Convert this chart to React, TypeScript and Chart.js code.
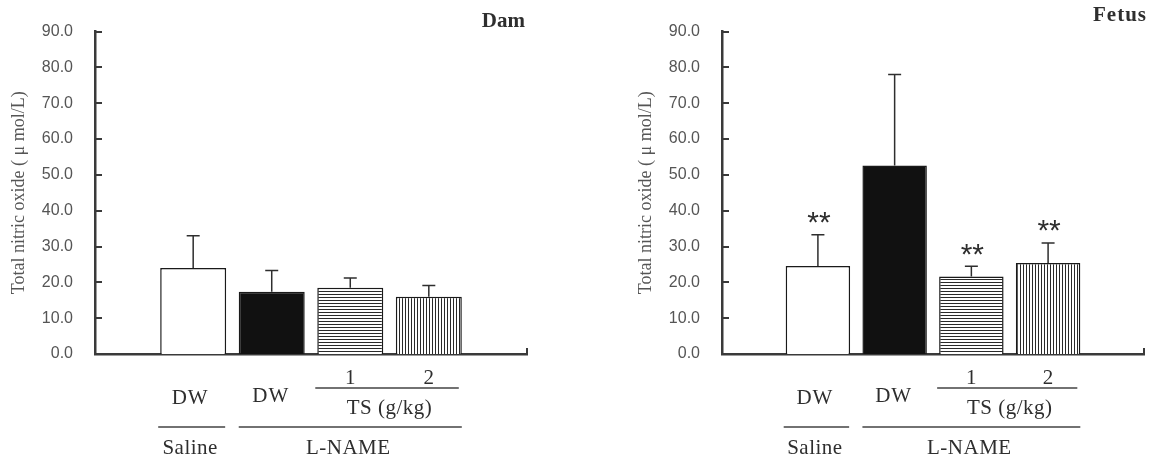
import React, { useEffect, useRef } from 'react';
import { Chart, registerables } from 'chart.js';

Chart.register(...registerables);

// Treatment groups, in bar order
const groups = ['Saline + DW', 'L-NAME + DW', 'L-NAME + TS 1 g/kg', 'L-NAME + TS 2 g/kg'];

// Total nitric oxide (µmol/L), mean and SD
const damMeans = [24.0, 17.4, 18.5, 16.0];
const damSD = [9.0, 5.9, 2.7, 3.1];
const fetusMeans = [24.6, 52.6, 21.6, 25.4];
const fetusSD = [8.7, 25.4, 2.9, 5.6];

// Significance marks vs. L-NAME + DW
const damMarks = ['', '', '', ''];
const fetusMarks = ['**', '', '**', '**'];

// Axis and group labels
const yMax = 90;
const yStep = 10;
const yTitle = 'Total nitric oxide ( \u03bc mol/L)';
const vehicleLabel = 'DW';
const doseLabels = ['1', '2'];
const doseTitle = 'TS (g/kg)';
const groupLabels = ['Saline', 'L-NAME'];

const SERIF = '"Liberation Serif", "Times New Roman", serif';
const SANS = '"Liberation Sans", Arial, sans-serif';
const INK = '#2e2e2e';
const AXIS = '#3a3a3a';

function stripePattern(dir: 'h' | 'v'): CanvasPattern {
  const c = document.createElement('canvas');
  c.width = 3;
  c.height = 3;
  const g = c.getContext('2d')!;
  g.fillStyle = '#ffffff';
  g.fillRect(0, 0, 3, 3);
  g.fillStyle = '#2a2a2a';
  if (dir === 'h') g.fillRect(0, 0, 3, 1);
  else g.fillRect(0, 0, 1, 3);
  return g.createPattern(c, 'repeat')!;
}

type PanelProps = {
  title: string;
  means: number[];
  sds: number[];
  marks: string[];
  left: number;
  width: number;
  padTop: number;
  padRight: number;
  titleDx: number;
  titleY: number;
  titleSpacing: number;
};

function Panel(p: PanelProps) {
  const ref = useRef<HTMLCanvasElement>(null);

  useEffect(() => {
    const fills = ['#ffffff', '#111111', stripePattern('h'), stripePattern('v')];

    const decor = {
      id: 'decor',
      afterDatasetsDraw(chart: any) {
        const ctx = chart.ctx as CanvasRenderingContext2D;
        const y = chart.scales.y;
        const bars = chart.getDatasetMeta(0).data;
        ctx.save();
        ctx.strokeStyle = INK;
        ctx.lineWidth = 1.5;
        bars.forEach((bar: any, i: number) => {
          const base = y.getPixelForValue(p.means[i]);
          const top = y.getPixelForValue(p.means[i] + p.sds[i]);
          ctx.beginPath();
          ctx.moveTo(bar.x, base);
          ctx.lineTo(bar.x, top);
          ctx.moveTo(bar.x - 6.5, top);
          ctx.lineTo(bar.x + 6.5, top);
          ctx.stroke();
          if (p.marks[i]) {
            ctx.font = `30px ${SANS}`;
            ctx.fillStyle = INK;
            ctx.textAlign = 'center';
            ctx.textBaseline = 'alphabetic';
            const m = ctx.measureText(p.marks[i]);
            const cy = top - 17;
            const base2 = cy + (m.actualBoundingBoxAscent - m.actualBoundingBoxDescent) / 2;
            ctx.fillText(p.marks[i], bar.x + 1, base2);
          }
        });
        ctx.restore();
      },
      afterDraw(chart: any) {
        const ctx = chart.ctx as CanvasRenderingContext2D;
        const { left, right, bottom } = chart.chartArea;
        const y = chart.scales.y;
        const bars = chart.getDatasetMeta(0).data;
        ctx.save();

        // inward tick marks on the value axis, end tick on the baseline
        ctx.strokeStyle = AXIS;
        ctx.lineWidth = 2;
        ctx.beginPath();
        y.ticks.forEach((t: any) => {
          const py = Math.round(y.getPixelForValue(t.value));
          ctx.moveTo(left, py);
          ctx.lineTo(left + 7, py);
        });
        ctx.moveTo(right, bottom);
        ctx.lineTo(right, bottom - 6);
        ctx.stroke();

        // panel title
        ctx.font = `bold 21px ${SERIF}`;
        ctx.fillStyle = INK;
        ctx.textAlign = 'right';
        ctx.textBaseline = 'middle';
        (ctx as any).letterSpacing = `${p.titleSpacing}px`;
        ctx.fillText(p.title, right + p.titleDx, p.titleY);
        (ctx as any).letterSpacing = '0px';

        // group labels under the bars
        const bl = (b: any) => b.x - b.width / 2;
        const br = (b: any) => b.x + b.width / 2;
        ctx.font = `21px ${SERIF}`;
        ctx.textAlign = 'center';
        ctx.fillStyle = INK;
        ctx.fillText(doseLabels[0], bars[2].x, bottom + 24);
        ctx.fillText(doseLabels[1], bars[3].x, bottom + 24);
        (ctx as any).letterSpacing = '1px';
        ctx.fillText(vehicleLabel, bars[0].x - 3, bottom + 44);
        ctx.fillText(vehicleLabel, bars[1].x - 1, bottom + 42);
        (ctx as any).letterSpacing = '0.5px';
        ctx.fillText(doseTitle, (bars[2].x + bars[3].x) / 2, bottom + 54);
        ctx.fillText(groupLabels[0], bars[0].x - 3, bottom + 94);
        ctx.fillText(groupLabels[1], (bl(bars[1]) + br(bars[3])) / 2 - 2, bottom + 94);
        (ctx as any).letterSpacing = '0px';

        ctx.strokeStyle = '#444444';
        ctx.lineWidth = 1.5;
        ctx.beginPath();
        ctx.moveTo(bl(bars[2]) - 2, bottom + 34);
        ctx.lineTo(br(bars[3]) - 3, bottom + 34);
        ctx.moveTo(bl(bars[0]) - 2, bottom + 73);
        ctx.lineTo(br(bars[0]) - 1, bottom + 73);
        ctx.moveTo(bl(bars[1]), bottom + 73);
        ctx.lineTo(br(bars[3]), bottom + 73);
        ctx.stroke();

        ctx.restore();
      },
    };

    const chart = new Chart(ref.current!, {
      type: 'bar',
      data: {
        datasets: [
          {
            label: p.title,
            data: p.means.map((v, i) => ({ x: i + 1, y: v })) as any,
            backgroundColor: fills as any,
            borderColor: '#1a1a1a',
            borderWidth: 1.5,
            barPercentage: 0.84,
            categoryPercentage: 1,
          },
        ],
      },
      options: {
        animation: false,
        responsive: false,
        devicePixelRatio: 1,
        layout: { padding: { top: p.padTop, right: p.padRight, bottom: 109, left: 0 } },
        plugins: {
          legend: { display: false },
          tooltip: { enabled: false },
          title: { display: false },
        },
        scales: {
          x: {
            type: 'linear',
            min: -0.25,
            max: groups.length + 1.25,
            grid: { display: false, drawTicks: false },
            ticks: { display: false },
            border: { display: true, color: AXIS, width: 2.5 },
            afterBuildTicks: (s: any) => {
              s.ticks = [];
            },
            afterFit: (s: any) => {
              s.height = 0;
            },
          },
          y: {
            min: 0,
            max: yMax,
            grid: { display: false, drawTicks: false },
            border: { display: true, color: AXIS, width: 2.5 },
            ticks: {
              stepSize: yStep,
              padding: 22,
              color: '#555555',
              font: { family: SANS, size: 16 },
              callback: (v: any) => Number(v).toFixed(1),
            },
            title: {
              display: true,
              text: yTitle,
              color: '#555555',
              font: { family: SERIF, size: 18 },
              padding: { top: 8, bottom: 0 },
            },
            afterFit: (s: any) => {
              s.width = 95;
            },
          },
        },
      } as any,
      plugins: [decor],
    });
    return () => chart.destroy();
  }, []);

  return (
    <canvas
      ref={ref}
      width={p.width}
      height={463}
      style={{ position: 'absolute', left: p.left, top: 0, width: p.width, height: 463 }}
    />
  );
}

export default function App() {
  return (
    <div style={{ position: 'absolute', left: 0, top: 0, width: 1163, height: 463, background: '#ffffff' }}>
      <Panel
        title="Dam"
        means={damMeans}
        sds={damSD}
        marks={damMarks}
        left={0}
        width={560}
        padTop={23.5}
        padRight={33}
        titleDx={-2}
        titleY={22}
        titleSpacing={0}
      />
      <Panel
        title="Fetus"
        means={fetusMeans}
        sds={fetusSD}
        marks={fetusMarks}
        left={627}
        width={536}
        padTop={25}
        padRight={19}
        titleDx={3}
        titleY={16}
        titleSpacing={1}
      />
    </div>
  );
}
